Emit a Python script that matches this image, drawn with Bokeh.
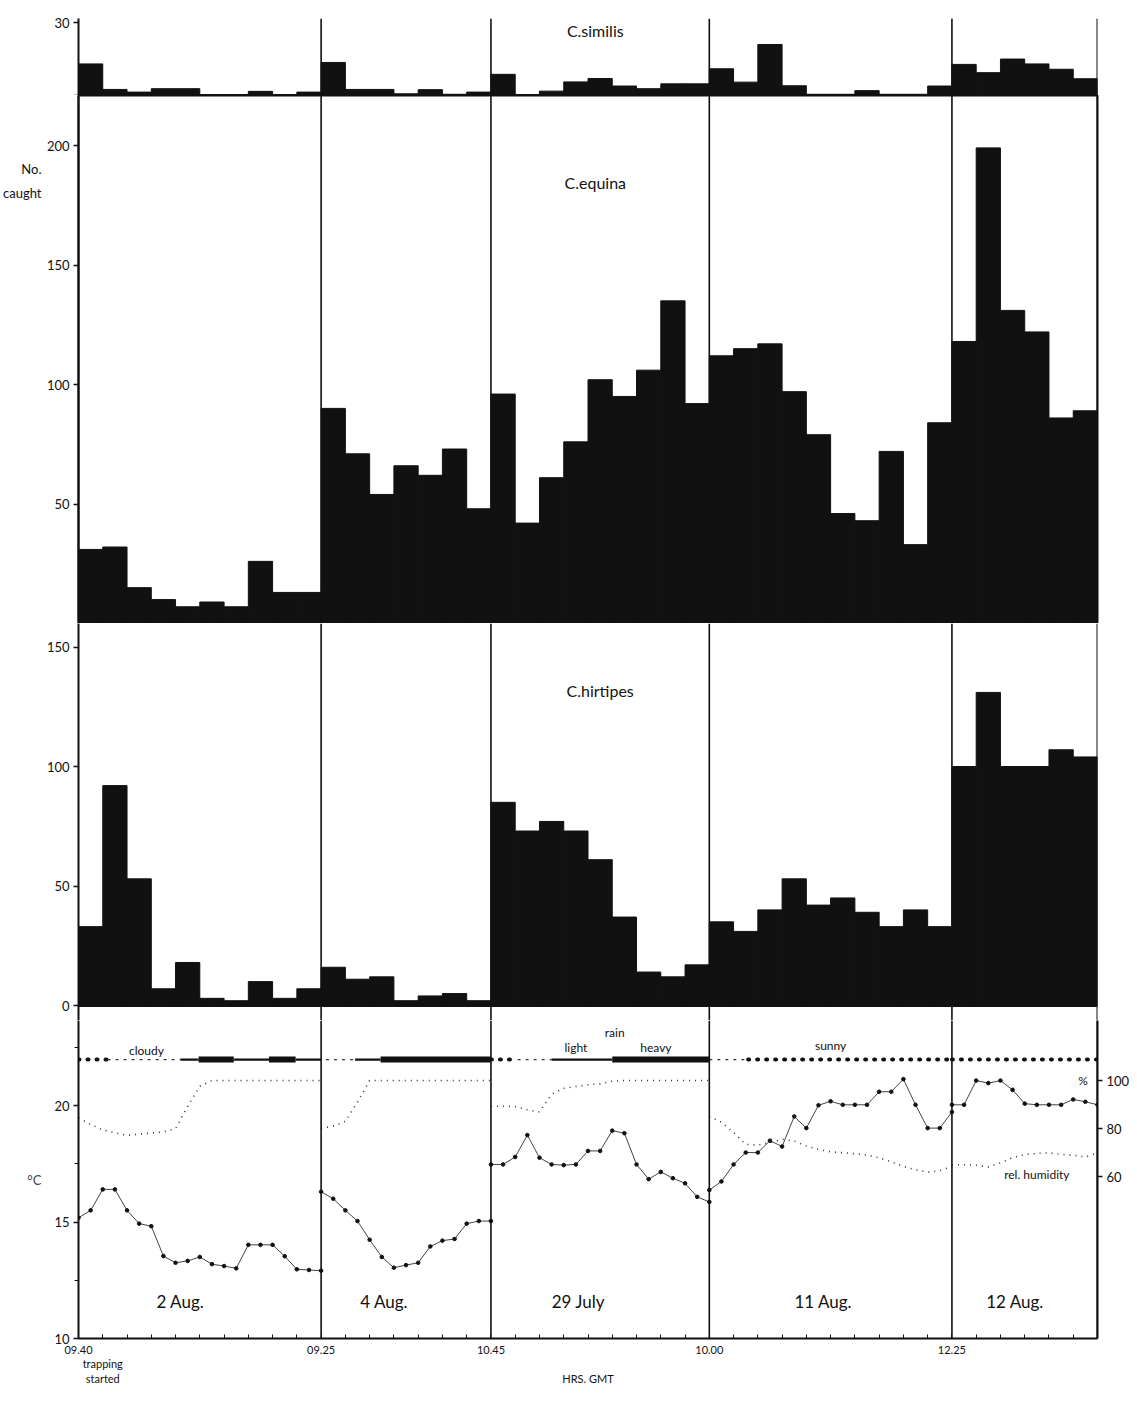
import numpy as np
from bokeh.plotting import figure
from bokeh.models import Range1d, LinearAxis, FixedTicker, Span, Label
from bokeh.layouts import column
from bokeh.embed import file_html
from bokeh.resources import INLINE

# ------------------------------------------------------------------ data
DAYS = ["2 Aug.", "4 Aug.", "29 July", "11 Aug.", "12 Aug."]
START_TIMES = ["09.40", "09.25", "10.45", "10.00", "12.25"]
BARS_PER_DAY = [10, 7, 9, 10, 6]

similis = [13, 2.5, 1.4, 2.8, 2.8, 0.4, 0.4, 1.7, 0.4, 1.4,
           13.6, 2.5, 2.5, 0.7, 2.4, 0.5, 1.4,
           8.7, 0.4, 1.8, 5.6, 7, 3.9, 2.8, 4.8, 4.8,
           11, 5.5, 21, 4, 0.5, 0.5, 2, 0.5, 0.5, 3.9,
           12.8, 9.4, 15, 13, 10.8, 6.9]
equina = [31, 32, 15, 10, 7, 9, 7, 26, 13, 13,
          90, 71, 54, 66, 62, 73, 48,
          96, 42, 61, 76, 102, 95, 106, 135, 92,
          112, 115, 117, 97, 79, 46, 43, 72, 33, 84,
          118, 199, 131, 122, 86, 89]
hirtipes = [33, 92, 53, 7, 18, 3, 2, 10, 3, 7,
            16, 11, 12, 2, 4, 5, 2,
            85, 73, 77, 73, 61, 37, 14, 12, 17,
            35, 31, 40, 53, 42, 45, 39, 33, 40, 33,
            100, 131, 100, 100, 107, 104]

# temperature (deg C), one reading every half interval, per day
temp_2aug = [15.18, 15.5, 16.4, 16.4, 15.5, 14.93, 14.82, 13.54, 13.25, 13.33, 13.5,
             13.19, 13.11, 13.01, 14.02, 14.02, 14.02, 13.53, 12.97, 12.94, 12.91]
temp_4aug = [16.3, 16.0, 15.5, 15.04, 14.24, 13.5, 13.04, 13.15, 13.25, 13.95,
             14.2, 14.27, 14.93, 15.04, 15.04]
temp_29jul = [17.47, 17.47, 17.79, 18.73, 17.76, 17.47, 17.44, 17.47, 18.05, 18.05,
              18.92, 18.81, 17.47, 16.84, 17.15, 16.88, 16.66, 16.08, 15.86]
temp_11aug = [16.37, 16.74, 17.47, 17.98, 17.98, 18.49, 18.24, 19.53, 19.03, 20.01,
              20.18, 20.03, 20.03, 20.03, 20.59, 20.59, 21.13, 20.03, 19.03, 19.03, 19.72]
temp_12aug = [20.03, 20.03, 21.07, 20.96, 21.07, 20.67, 20.08, 20.03, 20.03, 20.03,
              20.26, 20.16, 20.03]
TEMPS = [temp_2aug, temp_4aug, temp_29jul, temp_11aug, temp_12aug]

# relative humidity (%), same sampling
rh_2aug = [84.4, 81.7, 79.4, 78.2, 77.1, 77.6, 78.1, 78.6, 79.9, 89.2, 97.6,
           100, 100, 100, 100, 100, 100, 100, 100, 100, 100]
rh_4aug = [80, 81, 83, 91, 100, 100, 100, 100, 100, 100, 100, 100, 100, 100, 100]
rh_29jul = [89.3, 89.3, 89.1, 87.8, 86.9, 94.3, 96.7, 97.5, 98.2, 98.6, 99.7,
            100, 100, 100, 100, 100, 100, 100, 100]
rh_11aug = [85.0, 82.6, 78.4, 73.4, 73.1, 74.1, 75.5, 74.8, 72.7, 71.3, 70.3,
            69.9, 69.5, 68.9, 67.8, 66.1, 64.2, 62.8, 61.8, 62.4, 64.2]
rh_12aug = [64.9, 64.9, 64.7, 64.0, 65.7, 67.8, 69.2, 69.6, 69.9, 69.2, 68.9, 68.1, 69.9]
RHS = [rh_2aug, rh_4aug, rh_29jul, rh_11aug, rh_12aug]

# weather record (in trap-interval units from the start)
WEATHER_FROM = [0, 1.2, 4.2, 4.95, 6.4, 7.85, 8.95, 10.2, 11.4, 12.45, 17, 18.1, 19.5, 22, 26, 27.6, 36]
WEATHER_TO = [1.2, 4.2, 4.95, 6.4, 7.85, 8.95, 10, 11.4, 12.45, 17, 18.1, 19.5, 22, 26, 27.6, 36, 42]
WEATHER_KIND = ["sunny", "cloudy", "light rain", "heavy rain", "light rain", "heavy rain",
                "light rain", "cloudy", "light rain", "heavy rain", "sunny", "cloudy",
                "light rain", "heavy rain", "cloudy", "sunny", "sunny"]

# ------------------------------------------------------------------ layout
FONT = "Lato"
INK = "#111111"
FRAME_W = 1019
N = sum(BARS_PER_DAY)
bounds = np.cumsum([0] + BARS_PER_DAY)
bar_x = np.arange(N) + 0.5
xr = Range1d(0, N)

SIM_PX, CNT_PX = 2.43, 2.39      # px per insect
T_PX, RH_PX = 23.3, 2.4          # px per deg C / per %
H1, H2, H3, H4 = 77, 528, 397, 318
H3_BELOW = 15                    # hirtipes frame extends below its zero line
RH_BOTTOM = 100 - 258 / RH_PX    # humidity at the lower edge of the weather panel


def make_fig(h, yr, top=0, bottom=0, xaxis=False):
    p = figure(frame_width=FRAME_W, frame_height=h, x_range=xr, y_range=yr,
               output_backend="svg", toolbar_location=None,
               x_axis_location="below" if xaxis else None,
               min_border_left=78, min_border_right=40,
               min_border_top=top, min_border_bottom=bottom,
               background_fill_color="white", border_fill_color="white",
               outline_line_color=None)
    p.xgrid.visible = False
    p.ygrid.visible = False
    for b in bounds[1:]:
        p.add_layout(Span(location=float(b), dimension="height",
                          line_color=INK, line_width=2 if b == N else 1.6))
    return p


def style_left(ax, ticks, overrides=None, minor=None):
    ax.ticker = FixedTicker(ticks=ticks, minor_ticks=minor or [])
    ax.axis_line_color = INK
    ax.axis_line_width = 2
    ax.major_tick_line_color = INK
    ax.major_tick_line_width = 1.5
    ax.major_tick_in = 0
    ax.major_tick_out = 5
    ax.minor_tick_line_color = INK
    ax.minor_tick_in = 0
    ax.minor_tick_out = 4
    ax.major_label_text_font = FONT
    ax.major_label_text_font_size = "13px"
    ax.major_label_text_color = INK
    ax.major_label_standoff = 4
    if overrides:
        ax.major_label_overrides = overrides


def text(p, x, y, s, size="12px", range_name="default"):
    p.add_layout(Label(x=x, y=y, text=s, text_align="center", text_baseline="middle",
                       text_font=FONT, text_font_size=size, text_color=INK,
                       y_range_name=range_name))


# --- C. similis
p1 = make_fig(H1, Range1d(0, H1 / SIM_PX), top=18)
p1.vbar(x=bar_x, top=similis, width=1, bottom=0, fill_color=INK, line_color=INK)
p1.add_layout(Span(location=0, dimension="width", line_color=INK, line_width=2.5))
style_left(p1.yaxis[0], [0, 30], overrides={0: ""})
text(p1, 21.3, 26.7, "C.similis", "16px")

# --- C. equina
p2 = make_fig(H2, Range1d(0, H2 / CNT_PX))
p2.outline_line_color = INK
p2.outline_line_width = 2
p2.vbar(x=bar_x, top=equina, width=1, bottom=0, fill_color=INK, line_color=INK)
style_left(p2.yaxis[0], [50, 100, 150, 200])
text(p2, 21.3, 184.5, "C.equina", "16px")
# "No. caught" written as the label of an extra (line-less) axis
cap_ax = LinearAxis(ticker=FixedTicker(ticks=[185]), major_label_overrides={185: "No.\ncaught"})
cap_ax.axis_line_color = None
cap_ax.major_tick_line_color = None
cap_ax.minor_tick_line_color = None
cap_ax.major_tick_out = 0
cap_ax.major_tick_in = 0
cap_ax.major_label_standoff = 2
cap_ax.major_label_text_font = FONT
cap_ax.major_label_text_font_size = "13px"
cap_ax.major_label_text_color = INK
cap_ax.major_label_text_line_height = 1.5
p2.add_layout(cap_ax, "left")

# --- C. hirtipes
p3 = make_fig(H3, Range1d(-H3_BELOW / CNT_PX, (H3 - H3_BELOW) / CNT_PX))
p3.vbar(x=bar_x, top=hirtipes, width=1, bottom=0, fill_color=INK, line_color=INK)
p3.add_layout(Span(location=0, dimension="width", line_color=INK, line_width=3))
style_left(p3.yaxis[0], [0, 50, 100, 150])
text(p3, 21.5, 131.8, "C.hirtipes", "16px")

# --- weather panel
p4 = make_fig(H4, Range1d(10, 10 + H4 / T_PX), bottom=60, xaxis=True)
p4.extra_y_ranges = {"rh": Range1d(RH_BOTTOM, RH_BOTTOM + H4 / RH_PX)}
style_left(p4.yaxis[0], [10, 15, 20], minor=[12.5, 17.5, 22.5])
p4.yaxis[0].axis_label = "°C"
p4.yaxis[0].axis_label_orientation = "horizontal"
p4.yaxis[0].axis_label_text_font = FONT
p4.yaxis[0].axis_label_text_font_style = "normal"
p4.yaxis[0].axis_label_text_font_size = "13px"
p4.yaxis[0].axis_label_standoff = 10

rax = LinearAxis(y_range_name="rh")
style_left(rax, [60, 80, 100])
p4.add_layout(rax, "right")

x_labels = {float(b): t for b, t in zip(bounds[:-1], START_TIMES)}
x_labels[1.0] = "\ntrapping\nstarted"
x_labels[21.0] = "\n\nHRS. GMT"
xax = p4.xaxis[0]
xax.ticker = FixedTicker(ticks=sorted(x_labels), minor_ticks=list(range(N + 1)))
xax.major_label_overrides = x_labels
xax.axis_line_color = INK
xax.axis_line_width = 2
xax.major_tick_in = 4
xax.major_tick_out = 0
xax.major_tick_line_color = INK
xax.minor_tick_in = 4
xax.minor_tick_out = 0
xax.minor_tick_line_color = INK
xax.major_label_text_font = FONT
xax.major_label_text_font_size = "11px"
xax.major_label_text_color = INK
xax.major_label_text_line_height = 1.15
xax.major_label_standoff = 4

WEATHER_STYLE = {
    "sunny": dict(line_width=4, line_dash="1 8", line_cap="round", line_color=INK),
    "cloudy": dict(line_width=1.4, line_dash="3 5", line_color="#333333"),
    "light rain": dict(line_width=2.2, line_color=INK),
    "heavy rain": dict(line_width=6, line_color=INK),
}
WEATHER_Y = 21.97
for kind, st in WEATHER_STYLE.items():
    idx = [i for i, k in enumerate(WEATHER_KIND) if k == kind]
    p4.segment(x0=[WEATHER_FROM[i] for i in idx], x1=[WEATHER_TO[i] for i in idx],
               y0=WEATHER_Y, y1=WEATHER_Y, **st)

for d in range(len(DAYS)):
    xs = np.arange(bounds[d], bounds[d + 1] + 0.01, 0.5)
    p4.line(xs, TEMPS[d], line_color="#444444", line_width=1)
    p4.scatter(xs, TEMPS[d], marker="circle", size=3.6, fill_color=INK, line_color=INK)
    p4.line(xs, RHS[d], y_range_name="rh", line_color="#333333", line_width=1.6, line_dash="1 5")

DAY_X = [4.2, 12.6, 20.6, 30.7, 38.6]
for dx, name in zip(DAY_X, DAYS):
    text(p4, dx, 11.59, name, "17px")

text(p4, 2.8, 22.36, "cloudy", "12px")
text(p4, 22.1, 23.13, "rain", "12px")
text(p4, 20.5, 22.49, "light", "12px")
text(p4, 23.8, 22.49, "heavy", "12px")
text(p4, 31.0, 22.58, "sunny", "12px")
text(p4, 39.5, 61, "rel. humidity", "12px", range_name="rh")
text(p4, 41.4, 100, "%", "12px", range_name="rh")

layout = column(p1, p2, p3, p4, spacing=0)
open("out.html", "w").write(file_html(layout, INLINE))
